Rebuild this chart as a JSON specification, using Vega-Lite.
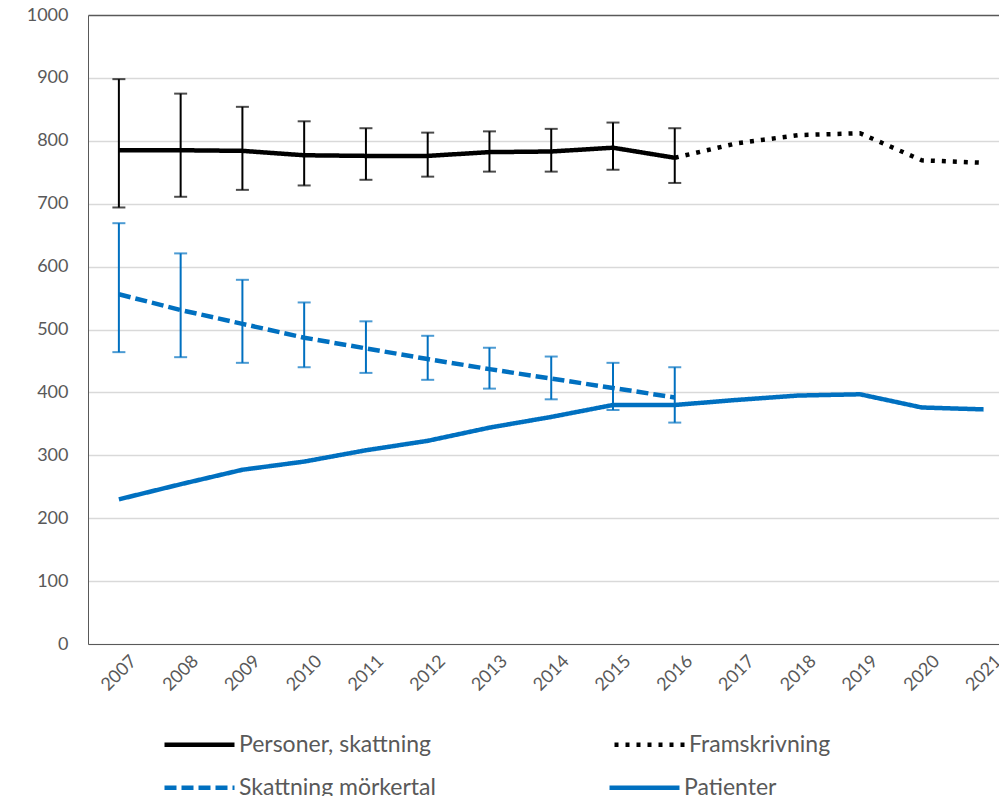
{
  "$schema": "https://vega.github.io/schema/vega-lite/v6.json",
  "width": 911,
  "height": 629,
  "autosize": {"type": "none"},
  "padding": {"left": 88, "top": 15, "right": 0, "bottom": 152},
  "background": "white",
  "config": {"view": {"stroke": null}, "font": "Lato"},
  "data": {"values": [
    {"year": 2007, "series": "Personer, skattning", "value": 785, "lo": 694, "hi": 898},
    {"year": 2008, "series": "Personer, skattning", "value": 785, "lo": 711, "hi": 875},
    {"year": 2009, "series": "Personer, skattning", "value": 784, "lo": 722, "hi": 854},
    {"year": 2010, "series": "Personer, skattning", "value": 777, "lo": 729, "hi": 831},
    {"year": 2011, "series": "Personer, skattning", "value": 776, "lo": 738, "hi": 820},
    {"year": 2012, "series": "Personer, skattning", "value": 776, "lo": 743, "hi": 813},
    {"year": 2013, "series": "Personer, skattning", "value": 782, "lo": 751, "hi": 815},
    {"year": 2014, "series": "Personer, skattning", "value": 783, "lo": 751, "hi": 819},
    {"year": 2015, "series": "Personer, skattning", "value": 789, "lo": 754, "hi": 829},
    {"year": 2016, "series": "Personer, skattning", "value": 773, "lo": 733, "hi": 820},
    {"year": 2016, "series": "Framskrivning", "value": 773},
    {"year": 2017, "series": "Framskrivning", "value": 796},
    {"year": 2018, "series": "Framskrivning", "value": 809},
    {"year": 2019, "series": "Framskrivning", "value": 812},
    {"year": 2020, "series": "Framskrivning", "value": 769},
    {"year": 2021, "series": "Framskrivning", "value": 765},
    {"year": 2007, "series": "Skattning mörkertal", "value": 556, "lo": 464, "hi": 669},
    {"year": 2008, "series": "Skattning mörkertal", "value": 531, "lo": 456, "hi": 621},
    {"year": 2009, "series": "Skattning mörkertal", "value": 509, "lo": 447, "hi": 579},
    {"year": 2010, "series": "Skattning mörkertal", "value": 487, "lo": 440, "hi": 543},
    {"year": 2011, "series": "Skattning mörkertal", "value": 470, "lo": 431, "hi": 513},
    {"year": 2012, "series": "Skattning mörkertal", "value": 453, "lo": 420, "hi": 490},
    {"year": 2013, "series": "Skattning mörkertal", "value": 437, "lo": 406, "hi": 471},
    {"year": 2014, "series": "Skattning mörkertal", "value": 422, "lo": 389, "hi": 457},
    {"year": 2015, "series": "Skattning mörkertal", "value": 407, "lo": 372, "hi": 447},
    {"year": 2016, "series": "Skattning mörkertal", "value": 392, "lo": 352, "hi": 440},
    {"year": 2007, "series": "Patienter", "value": 230},
    {"year": 2008, "series": "Patienter", "value": 254},
    {"year": 2009, "series": "Patienter", "value": 277},
    {"year": 2010, "series": "Patienter", "value": 290},
    {"year": 2011, "series": "Patienter", "value": 308},
    {"year": 2012, "series": "Patienter", "value": 323},
    {"year": 2013, "series": "Patienter", "value": 344},
    {"year": 2014, "series": "Patienter", "value": 361},
    {"year": 2015, "series": "Patienter", "value": 380},
    {"year": 2016, "series": "Patienter", "value": 380},
    {"year": 2017, "series": "Patienter", "value": 388},
    {"year": 2018, "series": "Patienter", "value": 395},
    {"year": 2019, "series": "Patienter", "value": 397},
    {"year": 2020, "series": "Patienter", "value": 376},
    {"year": 2021, "series": "Patienter", "value": 373}
  ]},
  "encoding": {
    "x": {"field": "year", "type": "quantitative",
      "scale": {"domain": [2006.5, 2021.25], "nice": false, "zero": false},
      "axis": {"values": [2007, 2008, 2009, 2010, 2011, 2012, 2013, 2014, 2015, 2016, 2017, 2018, 2019, 2020, 2021],
        "format": "d", "labelAngle": -45, "labelAlign": "center", "labelBaseline": "middle", "labelPadding": 29,
        "grid": false, "ticks": false, "tickSize": 0, "domainColor": "#595959", "domainWidth": 1,
        "labelFontSize": 18, "labelColor": "#595959", "title": null, "labelFlush": false, "labelOverlap": false}},
    "y": {"type": "quantitative",
      "scale": {"domain": [0, 1000], "nice": false},
      "axis": {"values": [0, 100, 200, 300, 400, 500, 600, 700, 800, 900, 1000], "format": "d",
        "grid": true, "gridColor": {"condition": {"test": "datum.value == 1000", "value": "#595959"}, "value": "#d9d9d9"},
        "gridWidth": 1.5, "ticks": false, "tickSize": 0, "domainColor": "#595959", "domainWidth": 1,
        "labelPadding": 20, "labelFontSize": 18, "labelColor": "#595959", "title": null}}
  },
  "resolve": {"scale": {"color": "independent", "strokeDash": "independent"}},
  "layer": [
    {
      "transform": [{"filter": "datum.series == 'Personer, skattning'"}],
      "layer": [
        {"mark": {"type": "rule", "color": "#000000", "strokeWidth": 2}, "encoding": {"y": {"field": "lo", "type": "quantitative"}, "y2": {"field": "hi"}}},
        {"mark": {"type": "tick", "orient": "horizontal", "size": 13, "thickness": 2, "color": "#000000"}, "encoding": {"y": {"field": "lo", "type": "quantitative"}}},
        {"mark": {"type": "tick", "orient": "horizontal", "size": 13, "thickness": 2, "color": "#000000"}, "encoding": {"y": {"field": "hi", "type": "quantitative"}}}
      ]
    },
    {
      "transform": [{"filter": "datum.series == 'Skattning mörkertal'"}],
      "layer": [
        {"mark": {"type": "rule", "color": "#0070C0", "strokeWidth": 2}, "encoding": {"y": {"field": "lo", "type": "quantitative"}, "y2": {"field": "hi"}}},
        {"mark": {"type": "tick", "orient": "horizontal", "size": 13, "thickness": 2, "color": "#0070C0"}, "encoding": {"y": {"field": "lo", "type": "quantitative"}}},
        {"mark": {"type": "tick", "orient": "horizontal", "size": 13, "thickness": 2, "color": "#0070C0"}, "encoding": {"y": {"field": "hi", "type": "quantitative"}}}
      ]
    },
    {
      "transform": [{"filter": "datum.series == 'Skattning mörkertal' || datum.series == 'Patienter'"}],
      "mark": {"type": "line", "strokeWidth": 4.5},
      "encoding": {
        "y": {"field": "value", "type": "quantitative"},
        "color": {"field": "series", "type": "nominal",
          "scale": {"domain": ["Skattning mörkertal", "Patienter"], "range": ["#0070C0", "#0070C0"]},
          "legend": {"title": null, "orient": "none", "legendX": 74, "legendY": 735, "direction": "horizontal", "columns": 2, "symbolType": "stroke",
            "symbolSize": 4900, "symbolStrokeWidth": 4.5, "labelFontSize": 23, "labelColor": "#595959",
            "columnPadding": 164, "labelOffset": 2, "labelLimit": 400}},
        "strokeDash": {"field": "series", "type": "nominal",
          "scale": {"domain": ["Skattning mörkertal", "Patienter"], "range": [[12, 5], [1, 0]]},
          "legend": {"title": null, "orient": "none", "legendX": 74, "legendY": 735, "direction": "horizontal", "columns": 2, "symbolType": "stroke",
            "symbolSize": 4900, "symbolStrokeWidth": 4.5, "labelFontSize": 23, "labelColor": "#595959",
            "columnPadding": 164, "labelOffset": 2, "labelLimit": 400}},
        "order": {"field": "year", "type": "quantitative"}
      }
    },
    {
      "transform": [{"filter": "datum.series == 'Personer, skattning' || datum.series == 'Framskrivning'"}],
      "mark": {"type": "line", "strokeWidth": 4.5},
      "encoding": {
        "y": {"field": "value", "type": "quantitative"},
        "color": {"field": "series", "type": "nominal",
          "scale": {"domain": ["Personer, skattning", "Framskrivning"], "range": ["#000000", "#000000"]},
          "legend": {"title": null, "orient": "none", "legendX": 74, "legendY": 692, "direction": "horizontal", "columns": 2, "symbolType": "stroke",
            "symbolSize": 4900, "symbolStrokeWidth": 4.5, "labelFontSize": 23, "labelColor": "#595959",
            "columnPadding": 174, "labelOffset": 2, "labelLimit": 400}},
        "strokeDash": {"field": "series", "type": "nominal",
          "scale": {"domain": ["Personer, skattning", "Framskrivning"], "range": [[1, 0], [4, 7]]},
          "legend": {"title": null, "orient": "none", "legendX": 74, "legendY": 692, "direction": "horizontal", "columns": 2, "symbolType": "stroke",
            "symbolSize": 4900, "symbolStrokeWidth": 4.5, "labelFontSize": 23, "labelColor": "#595959",
            "columnPadding": 174, "labelOffset": 2, "labelLimit": 400}},
        "order": {"field": "year", "type": "quantitative"}
      }
    }
  ]
}
